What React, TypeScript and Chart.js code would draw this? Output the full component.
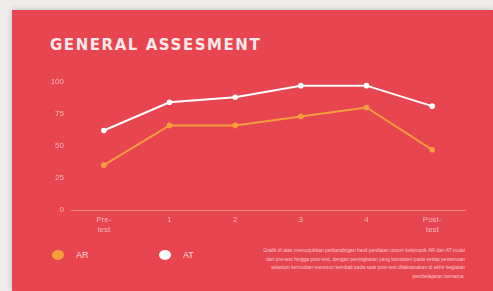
import React, { useEffect, useRef } from "react";
import { Chart, registerables } from "chart.js";

Chart.register(...registerables);

const categories: (string | string[])[] = [["Pre-", "test"], "1", "2", "3", "4", ["Post-", "test"]];
const arValues = [35, 66, 66, 73, 80, 47];
const atValues = [62, 84, 88, 97, 97, 81];
const yTicks = [0, 25, 50, 75, 100];
const seriesNames = ["AR", "AT"];
const seriesColors = ["#f59f3c", "#ffffff"];
const titleText = "GENERAL ASSESMENT";
const noteText =
  "Grafik di atas menunjukkan perbandingan hasil penilaian umum kelompok AR dan AT mulai dari pre-test hingga post-test, dengan peningkatan yang konsisten pada setiap pertemuan sebelum kemudian menurun kembali pada saat post-test dilaksanakan di akhir kegiatan pembelajaran bersama.";

export default function App() {
  const ref = useRef<HTMLCanvasElement | null>(null);

  useEffect(() => {
    document.body.style.margin = "0";
    if (!ref.current) return;
    const chart = new Chart(ref.current, {
      type: "line",
      data: {
        labels: categories,
        datasets: [
          {
            label: seriesNames[0],
            data: arValues,
            borderColor: seriesColors[0],
            backgroundColor: seriesColors[0],
            borderWidth: 2,
            pointRadius: 1.8,
            tension: 0,
          },
          {
            label: seriesNames[1],
            data: atValues,
            borderColor: seriesColors[1],
            backgroundColor: seriesColors[1],
            borderWidth: 2,
            pointRadius: 1.8,
            tension: 0,
          },
        ],
      },
      options: {
        animation: false,
        responsive: false,
        maintainAspectRatio: false,
        layout: { padding: { top: 11, right: 0, bottom: 0, left: 0 } },
        plugins: { legend: { display: false }, title: { display: false }, tooltip: { enabled: false } },
        scales: {
          x: {
            offset: true,
            grid: { display: false, drawTicks: false },
            border: { display: true, color: "rgba(255,255,255,0.35)", width: 1 },
            ticks: {
              color: "rgba(255,255,255,0.6)",
              font: { family: "Liberation Sans", size: 8 },
              padding: 5,
              maxRotation: 0,
              autoSkip: false,
            },
            afterFit: (s: any) => {
              s.height = 30;
            },
          },
          y: {
            min: 0,
            max: 100,
            grid: { display: false, drawTicks: false },
            border: { display: false },
            afterBuildTicks: (s: any) => {
              s.ticks = yTicks.map((v) => ({ value: v }));
            },
            ticks: {
              color: "rgba(255,255,255,0.6)",
              font: { family: "Liberation Sans", size: 8 },
              padding: 7,
            },
            afterFit: (s: any) => {
              s.width = 51;
            },
          },
        },
      },
    });
    return () => chart.destroy();
  }, []);

  return (
    <div style={{ position: "fixed", left: 0, top: 0, width: 493, height: 291, background: "#efecec", overflow: "hidden" }}>
      <div
        style={{
          position: "absolute",
          left: 12,
          top: 10,
          width: 481,
          height: 281,
          background: "#e7454f",
          boxShadow: "0 0 6px rgba(0,0,0,0.2)",
        }}
      />
      <div
        style={{
          position: "absolute",
          left: 50,
          top: 36,
          color: "#fbe9ea",
          fontFamily: "DejaVu Sans",
          fontWeight: 700,
          fontSize: 15,
          letterSpacing: 1.55,
          whiteSpace: "nowrap",
        }}
      >
        {titleText}
      </div>
      <canvas ref={ref} width={451} height={170} style={{ position: "absolute", left: 20, top: 70 }} />
      {seriesNames.map((n, i) => (
        <div
          key={n}
          style={{
            position: "absolute",
            left: i === 0 ? 52 : 159,
            top: 250,
            display: "flex",
            alignItems: "center",
            fontFamily: "Liberation Sans",
            fontSize: 9,
            color: "rgba(255,255,255,0.8)",
          }}
        >
          <span
            style={{
              display: "inline-block",
              width: 12,
              height: 10,
              borderRadius: "50%",
              background: seriesColors[i],
              marginRight: 12,
            }}
          />
          {n}
        </div>
      ))}
      <div
        style={{
          position: "absolute",
          left: 255,
          top: 246,
          width: 210,
          textAlign: "right",
          fontFamily: "Liberation Sans",
          fontSize: 5,
          lineHeight: "8.5px",
          color: "rgba(255,255,255,0.7)",
        }}
      >
        {noteText}
      </div>
    </div>
  );
}
